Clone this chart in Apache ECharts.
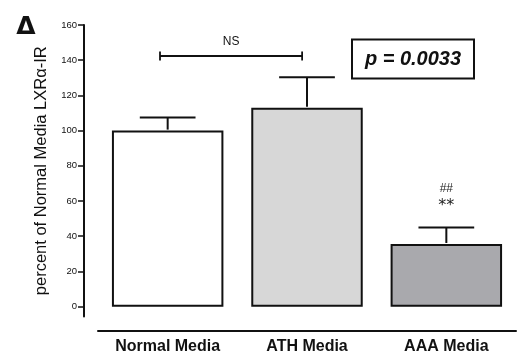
<!DOCTYPE html>
<html><head><meta charset="utf-8">
<script src="https://cdn.jsdelivr.net/npm/echarts@6/dist/echarts.min.js"></script>
<style>html,body{margin:0;padding:0;background:#fff}#c{width:522px;height:363px}</style>
</head><body><div id="c"></div>
<script>
var categories = ['Normal Media', 'ATH Media', 'AAA Media'];
var means = [100, 113.0, 35.6];
var upperErr = [107.4, 130.3, 44.9];
var barColors = ['#ffffff', '#d7d7d7', '#a9a9ad'];
var yTicks = [0, 20, 40, 60, 80, 100, 120, 140, 160];
var bracketLevel = 142.4;
var aaaMarks = ['##', '**'];
var pText = 'p = 0.0033';

var chart = echarts.init(document.getElementById('c'));
var font = "'Liberation Sans', Arial, sans-serif";
chart.setOption({
  animation: false,
  backgroundColor: '#fff',
  grid: {left: 98, right: 6, top: 25, bottom: 46.5, containLabel: false},
  graphic: [
    {type: 'text', x: 26, y: 27, style: {text: 'Δ', font: "bold 25px 'DejaVu Sans', sans-serif", fill: '#111', align: 'center', verticalAlign: 'middle'}},
    {type: 'rect', shape: {x: 352, y: 39.5, width: 122, height: 39}, style: {fill: 'none', stroke: '#111', lineWidth: 2}},
    {type: 'text', x: 413, y: 59, style: {text: pText, font: 'italic bold 20px ' + font, fill: '#111', align: 'center', verticalAlign: 'middle'}}
  ],
  xAxis: {
    type: 'category', data: categories, offset: 14,
    axisLine: {onZero: false, lineStyle: {color: '#111', width: 2}},
    axisTick: {show: false},
    axisLabel: {color: '#111', fontFamily: font, fontWeight: 'bold', fontSize: 16, margin: 8}
  },
  yAxis: {
    type: 'value', min: -5.6, max: 160, offset: 14,
    name: 'percent of Normal Media LXRα-IR', nameLocation: 'middle', nameGap: 26,
    nameTextStyle: {fontFamily: font, fontSize: 16.5, color: '#111'},
    axisLine: {show: true, lineStyle: {color: '#111', width: 2}},
    axisTick: {show: true, length: 6, customValues: yTicks, lineStyle: {color: '#111', width: 1.5}},
    axisLabel: {customValues: yTicks, fontSize: 9.5, color: '#111', fontFamily: font, margin: 7},
    splitLine: {show: false}
  },
  series: [
    {
      type: 'bar', barWidth: '80%',
      data: means.map(function (v, i) { return {value: v, itemStyle: {color: barColors[i]}}; }),
      itemStyle: {borderColor: '#111', borderWidth: 2}
    },
    {
      type: 'custom',
      data: means.map(function (v, i) { return [i, v, upperErr[i]]; }),
      encode: {x: 0, y: [1, 2]},
      renderItem: function (params, api) {
        var p1 = api.coord([api.value(0), api.value(1)]);
        var p2 = api.coord([api.value(0), api.value(2)]);
        var half = api.size([1, 0])[0] * 0.2;
        var st = {stroke: '#111', lineWidth: 2};
        return {type: 'group', children: [
          {type: 'line', shape: {x1: p1[0], y1: p1[1] - 1, x2: p2[0], y2: p2[1]}, style: st},
          {type: 'line', shape: {x1: p2[0] - half, y1: p2[1], x2: p2[0] + half, y2: p2[1]}, style: st}
        ]};
      },
      z: 5
    },
    {
      type: 'custom',
      data: [[0, 1, bracketLevel]],
      renderItem: function (params, api) {
        var band = api.size([1, 0])[0];
        var a = api.coord([api.value(0), api.value(2)]);
        var b = api.coord([api.value(1), api.value(2)]);
        var x1 = a[0] - band * 0.055, x2 = b[0] - band * 0.035, y = a[1];
        var st = {stroke: '#111', lineWidth: 1.8};
        return {type: 'group', children: [
          {type: 'line', shape: {x1: x1, y1: y, x2: x2, y2: y}, style: st},
          {type: 'line', shape: {x1: x1, y1: y - 4.5, x2: x1, y2: y + 4.5}, style: st},
          {type: 'line', shape: {x1: x2, y1: y - 4.5, x2: x2, y2: y + 4.5}, style: st},
          {type: 'text', x: (x1 + x2) / 2, y: y - 8, style: {text: 'NS', font: '12px ' + font, fill: '#111', align: 'center', verticalAlign: 'bottom'}}
        ]};
      },
      z: 5
    },
    {
      type: 'custom',
      data: [[2, 62.9]],
      renderItem: function (params, api) {
        var p = api.coord([api.value(0), api.value(1)]);
        return {type: 'group', children: [
          {type: 'text', x: p[0], y: p[1] - 7, style: {text: aaaMarks[0], font: '12px ' + font, fill: '#222', align: 'center', verticalAlign: 'middle'}},
          {type: 'text', x: p[0], y: p[1] + 10, style: {text: aaaMarks[1], font: "16px 'DejaVu Sans', sans-serif", fill: '#222', align: 'center', verticalAlign: 'middle'}}
        ]};
      },
      z: 5
    }
  ]
});
</script></body></html>
